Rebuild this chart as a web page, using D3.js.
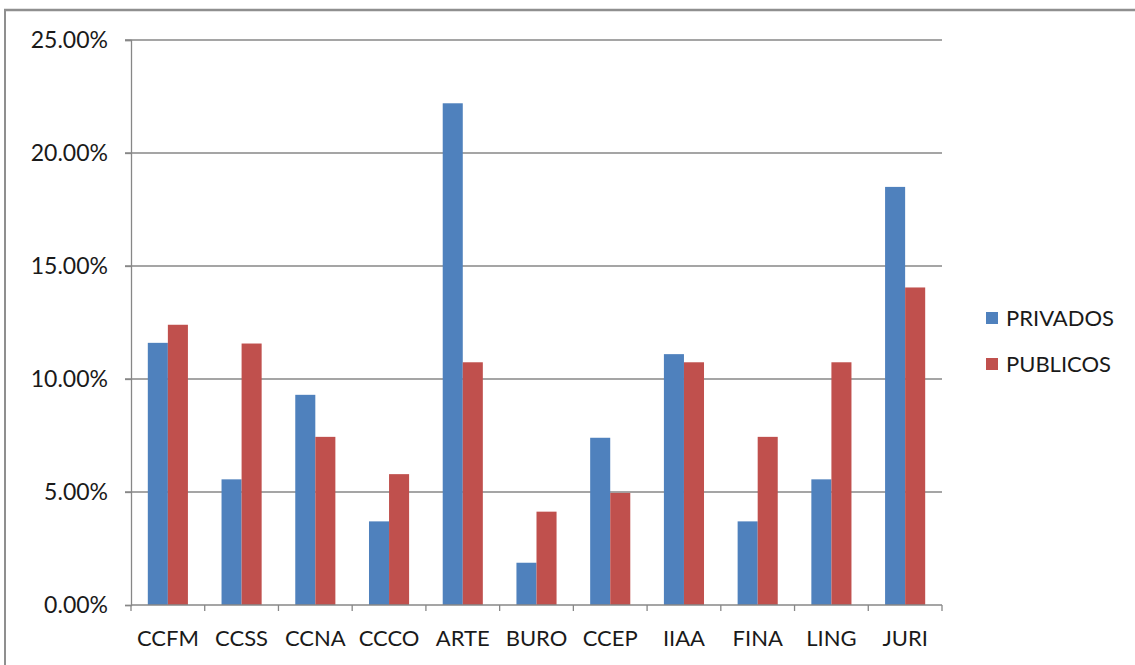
<!DOCTYPE html>
<html><head><meta charset="utf-8">
<script src="https://cdn.jsdelivr.net/npm/d3@7"></script>
<style>body{margin:0;background:#fff;overflow:hidden}svg{display:block}</style>
</head><body>
<script>
const categories = ["CCFM","CCSS","CCNA","CCCO","ARTE","BURO","CCEP","IIAA","FINA","LING","JURI"];
const privados = [11.6,5.56,9.3,3.7,22.2,1.87,7.4,11.1,3.7,5.56,18.5];
const publicos = [12.4,11.57,7.44,5.79,10.74,4.13,4.96,10.74,7.44,10.74,14.05];
const seriesNames = ["PRIVADOS","PUBLICOS"];
const colors = ["#4F81BD","#C0504D"];
const yTicks = [0,5,10,15,20,25];

(function(){
const W=1135,H=665;
const svg=d3.select("body").append("svg").attr("width",W).attr("height",H);
const font="Lato, 'Open Sans', sans-serif";

// outer frame
svg.append("line").attr("x1",4).attr("x2",W).attr("y1",10).attr("y2",10).attr("stroke","#8f8f8f").attr("stroke-width",2.5);
svg.append("line").attr("x1",5).attr("x2",5).attr("y1",10).attr("y2",H).attr("stroke","#8f8f8f").attr("stroke-width",2);

const pLeft=131,pRight=942,pTop=40,pBottom=605;
const x=d3.scaleBand().domain(categories).range([pLeft,pRight]).paddingInner(0.456).paddingOuter(0.228);
const xs=d3.scaleBand().domain(seriesNames).range([0,x.bandwidth()]);
const y=d3.scaleLinear().domain([0,25]).range([pBottom,pTop]);

// gridlines
svg.append("g").selectAll("line").data(yTicks.filter(d=>d>0)).join("line")
  .attr("x1",pLeft-6).attr("x2",pRight).attr("y1",d=>y(d)).attr("y2",d=>y(d))
  .attr("stroke","#878787").attr("stroke-width",1.3);

// y axis
const ya=svg.append("g").attr("transform",`translate(${pLeft},0)`)
  .call(d3.axisLeft(y).tickValues(yTicks).tickSize(6).tickPadding(17).tickFormat(d=>d.toFixed(2)+"%"));
ya.select(".domain").attr("stroke","#878787").attr("stroke-width",1.3);
ya.selectAll(".tick line").attr("stroke","#878787").attr("stroke-width",1.3);
ya.selectAll("text").attr("font-family",font).attr("font-size",23).attr("fill","#1a1a1a");

// bars
const data=categories.map((c,i)=>({c,vals:[privados[i],publicos[i]]}));
svg.append("g").selectAll("g").data(data).join("g")
  .attr("transform",d=>`translate(${x(d.c)},0)`)
  .selectAll("rect").data(d=>d.vals.map((v,j)=>({v,j}))).join("rect")
  .attr("x",d=>xs(seriesNames[d.j])).attr("width",xs.bandwidth())
  .attr("y",d=>y(d.v)).attr("height",d=>pBottom-y(d.v))
  .attr("fill",d=>colors[d.j]);

// x axis
const bounds=d3.range(categories.length+1).map(i=>pLeft+i*(pRight-pLeft)/categories.length);
svg.append("line").attr("x1",pLeft).attr("x2",pRight).attr("y1",pBottom).attr("y2",pBottom).attr("stroke","#878787").attr("stroke-width",1.3);
svg.append("g").selectAll("line").data(bounds).join("line")
  .attr("x1",d=>d).attr("x2",d=>d).attr("y1",pBottom).attr("y2",pBottom+6)
  .attr("stroke","#878787").attr("stroke-width",1.3);
svg.append("g").selectAll("text").data(categories).join("text")
  .attr("x",d=>x(d)+x.bandwidth()/2).attr("y",646)
  .attr("text-anchor","middle").attr("font-family",font).attr("font-size",22).attr("fill","#1a1a1a")
  .text(d=>d);

// legend
const lg=svg.append("g").selectAll("g").data(seriesNames).join("g")
  .attr("transform",(d,i)=>`translate(986,${312+i*46})`);
lg.append("rect").attr("width",12).attr("height",12).attr("fill",(d,i)=>colors[i]);
lg.append("text").attr("x",20).attr("y",6).attr("dy","0.35em").attr("font-family",font).attr("font-size",22).attr("fill","#1a1a1a").text(d=>d);
})();
</script>
</body></html>
